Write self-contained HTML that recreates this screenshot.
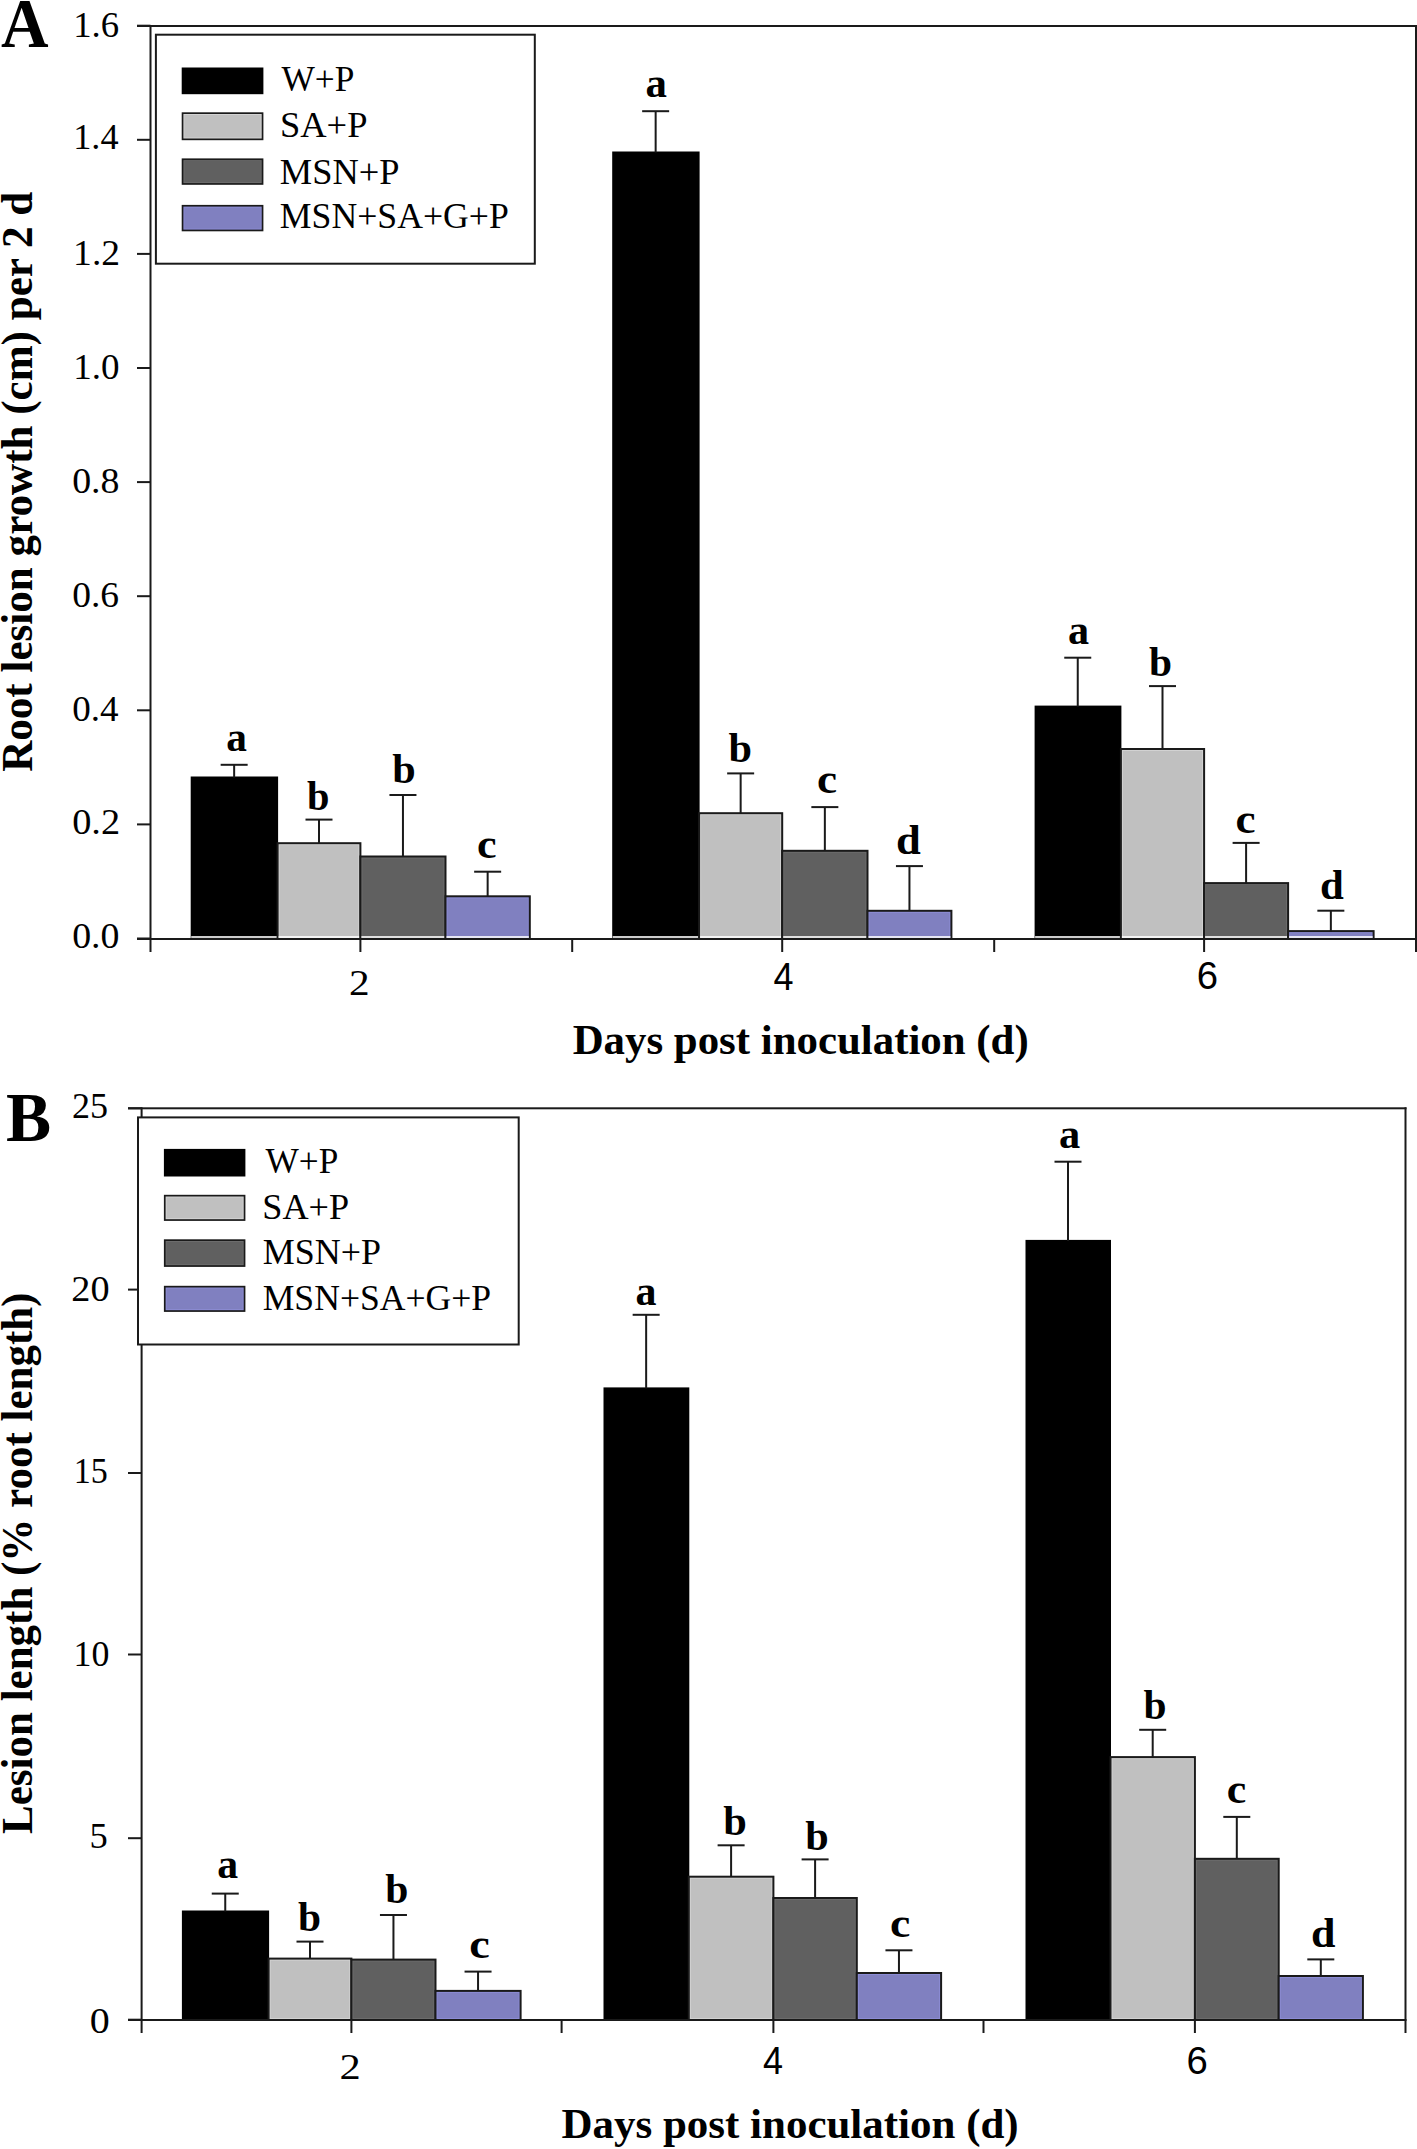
<!DOCTYPE html>
<html><head><meta charset="utf-8"><style>
html,body{margin:0;padding:0;background:#fff;}
svg{display:block;}
</style></head><body>
<svg width="1417" height="2149" viewBox="0 0 1417 2149">
<rect x="0" y="0" width="1417" height="2149" fill="#fff"/>
<rect x="190.70" y="776.50" width="87.40" height="161.50" fill="#000"/>
<rect x="191.20" y="936.00" width="85.90" height="2.00" fill="rgba(255,255,255,0.8)"/>
<rect x="276.60" y="842.20" width="84.80" height="95.80" fill="#1a1a1a"/>
<rect x="278.60" y="844.20" width="80.80" height="93.80" fill="#d2d2d2"/>
<rect x="279.60" y="845.20" width="78.80" height="92.80" fill="#c0c0c0"/>
<rect x="278.60" y="936.00" width="80.80" height="2.00" fill="rgba(255,255,255,0.8)"/>
<rect x="359.40" y="855.50" width="87.10" height="82.50" fill="#1a1a1a"/>
<rect x="361.40" y="857.50" width="83.10" height="80.50" fill="#6c6c6c"/>
<rect x="362.40" y="858.50" width="81.10" height="79.50" fill="#606060"/>
<rect x="361.40" y="936.00" width="83.10" height="2.00" fill="rgba(255,255,255,0.8)"/>
<rect x="444.50" y="895.30" width="86.30" height="42.70" fill="#1a1a1a"/>
<rect x="446.50" y="897.30" width="82.30" height="40.70" fill="#8c8cd4"/>
<rect x="447.50" y="898.30" width="80.30" height="39.70" fill="#8080c0"/>
<rect x="446.50" y="936.00" width="82.30" height="2.00" fill="rgba(255,255,255,0.8)"/>
<rect x="233.15" y="764.80" width="2.00" height="12.70" fill="#1a1a1a"/>
<rect x="220.65" y="763.80" width="27.00" height="2.00" fill="#1a1a1a"/>
<rect x="318.00" y="819.60" width="2.00" height="23.60" fill="#1a1a1a"/>
<rect x="305.50" y="818.60" width="27.00" height="2.00" fill="#1a1a1a"/>
<rect x="401.95" y="795.00" width="2.00" height="61.50" fill="#1a1a1a"/>
<rect x="389.45" y="794.00" width="27.00" height="2.00" fill="#1a1a1a"/>
<rect x="486.65" y="871.70" width="2.00" height="24.60" fill="#1a1a1a"/>
<rect x="474.15" y="870.70" width="27.00" height="2.00" fill="#1a1a1a"/>
<rect x="612.20" y="151.50" width="87.40" height="786.50" fill="#000"/>
<rect x="612.70" y="936.00" width="85.90" height="2.00" fill="rgba(255,255,255,0.8)"/>
<rect x="698.10" y="812.20" width="85.10" height="125.80" fill="#1a1a1a"/>
<rect x="700.10" y="814.20" width="81.10" height="123.80" fill="#d2d2d2"/>
<rect x="701.10" y="815.20" width="79.10" height="122.80" fill="#c0c0c0"/>
<rect x="700.10" y="936.00" width="81.10" height="2.00" fill="rgba(255,255,255,0.8)"/>
<rect x="781.20" y="849.80" width="87.30" height="88.20" fill="#1a1a1a"/>
<rect x="783.20" y="851.80" width="83.30" height="86.20" fill="#6c6c6c"/>
<rect x="784.20" y="852.80" width="81.30" height="85.20" fill="#606060"/>
<rect x="783.20" y="936.00" width="83.30" height="2.00" fill="rgba(255,255,255,0.8)"/>
<rect x="866.50" y="909.80" width="85.90" height="28.20" fill="#1a1a1a"/>
<rect x="868.50" y="911.80" width="81.90" height="26.20" fill="#8c8cd4"/>
<rect x="869.50" y="912.80" width="79.90" height="25.20" fill="#8080c0"/>
<rect x="868.50" y="936.00" width="81.90" height="2.00" fill="rgba(255,255,255,0.8)"/>
<rect x="654.65" y="111.20" width="2.00" height="41.30" fill="#1a1a1a"/>
<rect x="642.15" y="110.20" width="27.00" height="2.00" fill="#1a1a1a"/>
<rect x="739.65" y="773.40" width="2.00" height="39.80" fill="#1a1a1a"/>
<rect x="727.15" y="772.40" width="27.00" height="2.00" fill="#1a1a1a"/>
<rect x="823.85" y="807.10" width="2.00" height="43.70" fill="#1a1a1a"/>
<rect x="811.35" y="806.10" width="27.00" height="2.00" fill="#1a1a1a"/>
<rect x="908.45" y="866.10" width="2.00" height="44.70" fill="#1a1a1a"/>
<rect x="895.95" y="865.10" width="27.00" height="2.00" fill="#1a1a1a"/>
<rect x="1034.60" y="705.60" width="86.80" height="232.40" fill="#000"/>
<rect x="1035.10" y="936.00" width="85.30" height="2.00" fill="rgba(255,255,255,0.8)"/>
<rect x="1119.90" y="748.00" width="85.20" height="190.00" fill="#1a1a1a"/>
<rect x="1121.90" y="750.00" width="81.20" height="188.00" fill="#d2d2d2"/>
<rect x="1122.90" y="751.00" width="79.20" height="187.00" fill="#c0c0c0"/>
<rect x="1121.90" y="936.00" width="81.20" height="2.00" fill="rgba(255,255,255,0.8)"/>
<rect x="1203.10" y="882.10" width="86.00" height="55.90" fill="#1a1a1a"/>
<rect x="1205.10" y="884.10" width="82.00" height="53.90" fill="#6c6c6c"/>
<rect x="1206.10" y="885.10" width="80.00" height="52.90" fill="#606060"/>
<rect x="1205.10" y="936.00" width="82.00" height="2.00" fill="rgba(255,255,255,0.8)"/>
<rect x="1287.10" y="930.10" width="87.50" height="7.90" fill="#1a1a1a"/>
<rect x="1289.10" y="932.10" width="83.50" height="5.90" fill="#8c8cd4"/>
<rect x="1290.10" y="933.10" width="81.50" height="4.90" fill="#8080c0"/>
<rect x="1289.10" y="936.00" width="83.50" height="2.00" fill="rgba(255,255,255,0.8)"/>
<rect x="1076.75" y="657.70" width="2.00" height="48.90" fill="#1a1a1a"/>
<rect x="1064.25" y="656.70" width="27.00" height="2.00" fill="#1a1a1a"/>
<rect x="1161.50" y="686.10" width="2.00" height="62.90" fill="#1a1a1a"/>
<rect x="1149.00" y="685.10" width="27.00" height="2.00" fill="#1a1a1a"/>
<rect x="1245.10" y="842.90" width="2.00" height="40.20" fill="#1a1a1a"/>
<rect x="1232.60" y="841.90" width="27.00" height="2.00" fill="#1a1a1a"/>
<rect x="1329.85" y="910.70" width="2.00" height="20.40" fill="#1a1a1a"/>
<rect x="1317.35" y="909.70" width="27.00" height="2.00" fill="#1a1a1a"/>
<rect x="137.00" y="25.00" width="1280.00" height="2.00" fill="#1a1a1a"/>
<rect x="137.00" y="938.00" width="1280.00" height="2.00" fill="#1a1a1a"/>
<rect x="149.50" y="25.00" width="2.00" height="927.00" fill="#1a1a1a"/>
<rect x="1415.00" y="25.00" width="2.00" height="927.00" fill="#1a1a1a"/>
<rect x="137.00" y="937.50" width="13.50" height="2.00" fill="#1a1a1a"/>
<rect x="137.00" y="823.40" width="13.50" height="2.00" fill="#1a1a1a"/>
<rect x="137.00" y="709.30" width="13.50" height="2.00" fill="#1a1a1a"/>
<rect x="137.00" y="595.20" width="13.50" height="2.00" fill="#1a1a1a"/>
<rect x="137.00" y="481.10" width="13.50" height="2.00" fill="#1a1a1a"/>
<rect x="137.00" y="367.00" width="13.50" height="2.00" fill="#1a1a1a"/>
<rect x="137.00" y="252.90" width="13.50" height="2.00" fill="#1a1a1a"/>
<rect x="137.00" y="138.80" width="13.50" height="2.00" fill="#1a1a1a"/>
<rect x="137.00" y="24.70" width="13.50" height="2.00" fill="#1a1a1a"/>
<rect x="359.40" y="939.00" width="2.00" height="13.00" fill="#1a1a1a"/>
<rect x="571.20" y="939.00" width="2.00" height="13.00" fill="#1a1a1a"/>
<rect x="781.20" y="939.00" width="2.00" height="13.00" fill="#1a1a1a"/>
<rect x="993.20" y="939.00" width="2.00" height="13.00" fill="#1a1a1a"/>
<rect x="1203.10" y="939.00" width="2.00" height="13.00" fill="#1a1a1a"/>
<rect x="154.90" y="33.70" width="380.90" height="231.00" fill="#1a1a1a"/>
<rect x="156.90" y="35.70" width="376.90" height="227.00" fill="#fff"/>
<rect x="181.70" y="67.50" width="81.70" height="26.70" fill="#000"/>
<rect x="181.70" y="112.30" width="81.70" height="27.90" fill="#1a1a1a"/>
<rect x="183.40" y="114.00" width="78.30" height="24.50" fill="#d2d2d2"/>
<rect x="184.40" y="115.00" width="76.30" height="22.50" fill="#c0c0c0"/>
<rect x="181.70" y="158.40" width="81.70" height="26.40" fill="#1a1a1a"/>
<rect x="183.40" y="160.10" width="78.30" height="23.00" fill="#6c6c6c"/>
<rect x="184.40" y="161.10" width="76.30" height="21.00" fill="#606060"/>
<rect x="181.70" y="204.90" width="81.70" height="26.40" fill="#1a1a1a"/>
<rect x="183.40" y="206.60" width="78.30" height="23.00" fill="#8c8cd4"/>
<rect x="184.40" y="207.60" width="76.30" height="21.00" fill="#8080c0"/>
<text x="281.50" y="90.58" font-family='"Liberation Serif", serif' font-weight="normal" font-size="34.80" textLength="72.88" lengthAdjust="spacingAndGlyphs">W+P</text>
<text x="280.03" y="137.15" font-family='"Liberation Serif", serif' font-weight="normal" font-size="34.80" textLength="87.46" lengthAdjust="spacingAndGlyphs">SA+P</text>
<text x="279.81" y="183.55" font-family='"Liberation Serif", serif' font-weight="normal" font-size="34.80" textLength="119.64" lengthAdjust="spacingAndGlyphs">MSN+P</text>
<text x="279.83" y="227.65" font-family='"Liberation Serif", serif' font-weight="normal" font-size="34.80" textLength="228.94" lengthAdjust="spacingAndGlyphs">MSN+SA+G+P</text>
<rect x="181.90" y="1910.50" width="87.20" height="108.50" fill="#000"/>
<rect x="267.60" y="1957.60" width="84.80" height="61.40" fill="#1a1a1a"/>
<rect x="269.60" y="1959.60" width="80.80" height="59.40" fill="#d2d2d2"/>
<rect x="270.60" y="1960.60" width="78.80" height="57.40" fill="#c0c0c0"/>
<rect x="350.40" y="1958.60" width="86.10" height="60.40" fill="#1a1a1a"/>
<rect x="352.40" y="1960.60" width="82.10" height="58.40" fill="#6c6c6c"/>
<rect x="353.40" y="1961.60" width="80.10" height="56.40" fill="#606060"/>
<rect x="434.50" y="1989.90" width="87.10" height="29.10" fill="#1a1a1a"/>
<rect x="436.50" y="1991.90" width="83.10" height="27.10" fill="#8c8cd4"/>
<rect x="437.50" y="1992.90" width="81.10" height="25.10" fill="#8080c0"/>
<rect x="224.25" y="1893.60" width="2.00" height="17.90" fill="#1a1a1a"/>
<rect x="211.75" y="1892.60" width="27.00" height="2.00" fill="#1a1a1a"/>
<rect x="309.00" y="1941.60" width="2.00" height="17.00" fill="#1a1a1a"/>
<rect x="296.50" y="1940.60" width="27.00" height="2.00" fill="#1a1a1a"/>
<rect x="392.45" y="1915.00" width="2.00" height="44.60" fill="#1a1a1a"/>
<rect x="379.95" y="1914.00" width="27.00" height="2.00" fill="#1a1a1a"/>
<rect x="477.05" y="1971.60" width="2.00" height="19.30" fill="#1a1a1a"/>
<rect x="464.55" y="1970.60" width="27.00" height="2.00" fill="#1a1a1a"/>
<rect x="603.50" y="1387.40" width="85.80" height="631.60" fill="#000"/>
<rect x="687.80" y="1875.70" width="86.60" height="143.30" fill="#1a1a1a"/>
<rect x="689.80" y="1877.70" width="82.60" height="141.30" fill="#d2d2d2"/>
<rect x="690.80" y="1878.70" width="80.60" height="139.30" fill="#c0c0c0"/>
<rect x="772.40" y="1897.00" width="85.40" height="122.00" fill="#1a1a1a"/>
<rect x="774.40" y="1899.00" width="81.40" height="120.00" fill="#6c6c6c"/>
<rect x="775.40" y="1900.00" width="79.40" height="118.00" fill="#606060"/>
<rect x="855.80" y="1972.00" width="86.30" height="47.00" fill="#1a1a1a"/>
<rect x="857.80" y="1974.00" width="82.30" height="45.00" fill="#8c8cd4"/>
<rect x="858.80" y="1975.00" width="80.30" height="43.00" fill="#8080c0"/>
<rect x="645.15" y="1314.80" width="2.00" height="73.60" fill="#1a1a1a"/>
<rect x="632.65" y="1313.80" width="27.00" height="2.00" fill="#1a1a1a"/>
<rect x="730.10" y="1845.30" width="2.00" height="31.40" fill="#1a1a1a"/>
<rect x="717.60" y="1844.30" width="27.00" height="2.00" fill="#1a1a1a"/>
<rect x="814.10" y="1859.40" width="2.00" height="38.60" fill="#1a1a1a"/>
<rect x="801.60" y="1858.40" width="27.00" height="2.00" fill="#1a1a1a"/>
<rect x="897.95" y="1950.30" width="2.00" height="22.70" fill="#1a1a1a"/>
<rect x="885.45" y="1949.30" width="27.00" height="2.00" fill="#1a1a1a"/>
<rect x="1025.50" y="1239.90" width="85.50" height="779.10" fill="#000"/>
<rect x="1109.50" y="1756.10" width="86.40" height="262.90" fill="#1a1a1a"/>
<rect x="1111.50" y="1758.10" width="82.40" height="260.90" fill="#d2d2d2"/>
<rect x="1112.50" y="1759.10" width="80.40" height="258.90" fill="#c0c0c0"/>
<rect x="1193.90" y="1857.80" width="85.80" height="161.20" fill="#1a1a1a"/>
<rect x="1195.90" y="1859.80" width="81.80" height="159.20" fill="#6c6c6c"/>
<rect x="1196.90" y="1860.80" width="79.80" height="157.20" fill="#606060"/>
<rect x="1277.70" y="1975.00" width="86.20" height="44.00" fill="#1a1a1a"/>
<rect x="1279.70" y="1977.00" width="82.20" height="42.00" fill="#8c8cd4"/>
<rect x="1280.70" y="1978.00" width="80.20" height="40.00" fill="#8080c0"/>
<rect x="1067.00" y="1161.70" width="2.00" height="79.20" fill="#1a1a1a"/>
<rect x="1054.50" y="1160.70" width="27.00" height="2.00" fill="#1a1a1a"/>
<rect x="1151.70" y="1729.80" width="2.00" height="27.30" fill="#1a1a1a"/>
<rect x="1139.20" y="1728.80" width="27.00" height="2.00" fill="#1a1a1a"/>
<rect x="1235.80" y="1816.90" width="2.00" height="41.90" fill="#1a1a1a"/>
<rect x="1223.30" y="1815.90" width="27.00" height="2.00" fill="#1a1a1a"/>
<rect x="1319.80" y="1959.40" width="2.00" height="16.60" fill="#1a1a1a"/>
<rect x="1307.30" y="1958.40" width="27.00" height="2.00" fill="#1a1a1a"/>
<rect x="128.00" y="1107.30" width="1278.50" height="2.00" fill="#1a1a1a"/>
<rect x="128.00" y="2019.00" width="1278.50" height="2.00" fill="#1a1a1a"/>
<rect x="140.60" y="1107.30" width="2.00" height="925.70" fill="#1a1a1a"/>
<rect x="1404.50" y="1107.30" width="2.00" height="925.70" fill="#1a1a1a"/>
<rect x="128.00" y="2018.70" width="13.60" height="2.00" fill="#1a1a1a"/>
<rect x="128.00" y="1837.20" width="13.60" height="2.00" fill="#1a1a1a"/>
<rect x="128.00" y="1653.50" width="13.60" height="2.00" fill="#1a1a1a"/>
<rect x="128.00" y="1472.00" width="13.60" height="2.00" fill="#1a1a1a"/>
<rect x="128.00" y="1288.60" width="13.60" height="2.00" fill="#1a1a1a"/>
<rect x="128.00" y="1107.30" width="13.60" height="2.00" fill="#1a1a1a"/>
<rect x="350.40" y="2020.00" width="2.00" height="13.00" fill="#1a1a1a"/>
<rect x="560.60" y="2020.00" width="2.00" height="13.00" fill="#1a1a1a"/>
<rect x="772.40" y="2020.00" width="2.00" height="13.00" fill="#1a1a1a"/>
<rect x="982.50" y="2020.00" width="2.00" height="13.00" fill="#1a1a1a"/>
<rect x="1193.90" y="2020.00" width="2.00" height="13.00" fill="#1a1a1a"/>
<rect x="137.00" y="1116.40" width="382.70" height="229.10" fill="#1a1a1a"/>
<rect x="139.00" y="1118.40" width="378.70" height="225.10" fill="#fff"/>
<rect x="163.90" y="1148.90" width="81.50" height="27.60" fill="#000"/>
<rect x="163.90" y="1194.80" width="81.50" height="26.10" fill="#1a1a1a"/>
<rect x="165.60" y="1196.50" width="78.10" height="22.70" fill="#d2d2d2"/>
<rect x="166.60" y="1197.50" width="76.10" height="20.70" fill="#c0c0c0"/>
<rect x="163.90" y="1239.30" width="81.50" height="27.60" fill="#1a1a1a"/>
<rect x="165.60" y="1241.00" width="78.10" height="24.20" fill="#6c6c6c"/>
<rect x="166.60" y="1242.00" width="76.10" height="22.20" fill="#606060"/>
<rect x="163.90" y="1285.80" width="81.50" height="26.10" fill="#1a1a1a"/>
<rect x="165.60" y="1287.50" width="78.10" height="22.70" fill="#8c8cd4"/>
<rect x="166.60" y="1288.50" width="76.10" height="20.70" fill="#8080c0"/>
<text x="265.60" y="1173.38" font-family='"Liberation Serif", serif' font-weight="normal" font-size="34.80" textLength="72.77" lengthAdjust="spacingAndGlyphs">W+P</text>
<text x="262.35" y="1219.45" font-family='"Liberation Serif", serif' font-weight="normal" font-size="34.80" textLength="86.83" lengthAdjust="spacingAndGlyphs">SA+P</text>
<text x="262.72" y="1263.95" font-family='"Liberation Serif", serif' font-weight="normal" font-size="34.80" textLength="118.21" lengthAdjust="spacingAndGlyphs">MSN+P</text>
<text x="262.73" y="1310.35" font-family='"Liberation Serif", serif' font-weight="normal" font-size="34.80" textLength="228.43" lengthAdjust="spacingAndGlyphs">MSN+SA+G+P</text>
<text x="72.19" y="948.38" font-family='"Liberation Serif", serif' font-weight="normal" font-size="35.00" textLength="47.33" lengthAdjust="spacingAndGlyphs">0.0</text>
<text x="72.17" y="834.48" font-family='"Liberation Serif", serif' font-weight="normal" font-size="35.00" textLength="47.94" lengthAdjust="spacingAndGlyphs">0.2</text>
<text x="72.22" y="721.18" font-family='"Liberation Serif", serif' font-weight="normal" font-size="35.00" textLength="46.34" lengthAdjust="spacingAndGlyphs">0.4</text>
<text x="72.20" y="606.77" font-family='"Liberation Serif", serif' font-weight="normal" font-size="35.00" textLength="46.93" lengthAdjust="spacingAndGlyphs">0.6</text>
<text x="72.19" y="492.68" font-family='"Liberation Serif", serif' font-weight="normal" font-size="35.00" textLength="47.33" lengthAdjust="spacingAndGlyphs">0.8</text>
<text x="73.17" y="378.98" font-family='"Liberation Serif", serif' font-weight="normal" font-size="35.00" textLength="46.32" lengthAdjust="spacingAndGlyphs">1.0</text>
<text x="73.12" y="264.88" font-family='"Liberation Serif", serif' font-weight="normal" font-size="35.00" textLength="46.95" lengthAdjust="spacingAndGlyphs">1.2</text>
<text x="73.24" y="149.47" font-family='"Liberation Serif", serif' font-weight="normal" font-size="35.00" textLength="45.31" lengthAdjust="spacingAndGlyphs">1.4</text>
<text x="73.19" y="37.08" font-family='"Liberation Serif", serif' font-weight="normal" font-size="35.00" textLength="45.91" lengthAdjust="spacingAndGlyphs">1.6</text>
<text x="89.80" y="2032.95" font-family='"Liberation Serif", serif' font-weight="normal" font-size="35.00" textLength="20.00" lengthAdjust="spacingAndGlyphs">0</text>
<text x="89.61" y="1847.85" font-family='"Liberation Serif", serif' font-weight="normal" font-size="35.00" textLength="18.25" lengthAdjust="spacingAndGlyphs">5</text>
<text x="73.57" y="1666.45" font-family='"Liberation Serif", serif' font-weight="normal" font-size="35.00" textLength="35.86" lengthAdjust="spacingAndGlyphs">10</text>
<text x="73.74" y="1483.25" font-family='"Liberation Serif", serif' font-weight="normal" font-size="35.00" textLength="34.02" lengthAdjust="spacingAndGlyphs">15</text>
<text x="71.28" y="1300.95" font-family='"Liberation Serif", serif' font-weight="normal" font-size="35.00" textLength="38.25" lengthAdjust="spacingAndGlyphs">20</text>
<text x="71.98" y="1117.75" font-family='"Liberation Serif", serif' font-weight="normal" font-size="35.00" textLength="36.07" lengthAdjust="spacingAndGlyphs">25</text>
<text x="348.94" y="995.30" font-family='"Liberation Serif", serif' font-weight="normal" font-size="35.00" textLength="20.62" lengthAdjust="spacingAndGlyphs">2</text>
<text x="773.40" y="989.80" font-family='"Liberation Sans", sans-serif' font-weight="normal" font-size="38.50" textLength="20.02" lengthAdjust="spacingAndGlyphs">4</text>
<text x="1196.69" y="989.42" font-family='"Liberation Sans", sans-serif' font-weight="normal" font-size="38.00" textLength="21.28" lengthAdjust="spacingAndGlyphs">6</text>
<text x="339.59" y="2079.40" font-family='"Liberation Serif", serif' font-weight="normal" font-size="35.00" textLength="21.25" lengthAdjust="spacingAndGlyphs">2</text>
<text x="762.90" y="2074.10" font-family='"Liberation Sans", sans-serif' font-weight="normal" font-size="38.50" textLength="20.02" lengthAdjust="spacingAndGlyphs">4</text>
<text x="1186.59" y="2073.72" font-family='"Liberation Sans", sans-serif' font-weight="normal" font-size="38.00" textLength="21.28" lengthAdjust="spacingAndGlyphs">6</text>
<text x="226.16" y="751.29" font-family='"Liberation Serif", serif' font-weight="bold" font-size="41.50" textLength="20.66" lengthAdjust="spacingAndGlyphs">a</text>
<text x="307.09" y="809.99" font-family='"Liberation Serif", serif' font-weight="bold" font-size="41.50" textLength="22.47" lengthAdjust="spacingAndGlyphs">b</text>
<text x="392.17" y="783.09" font-family='"Liberation Serif", serif' font-weight="bold" font-size="41.50" textLength="23.47" lengthAdjust="spacingAndGlyphs">b</text>
<text x="477.05" y="857.88" font-family='"Liberation Serif", serif' font-weight="bold" font-size="41.50" textLength="19.60" lengthAdjust="spacingAndGlyphs">c</text>
<text x="645.61" y="97.38" font-family='"Liberation Serif", serif' font-weight="bold" font-size="41.50" textLength="21.43" lengthAdjust="spacingAndGlyphs">a</text>
<text x="728.57" y="761.79" font-family='"Liberation Serif", serif' font-weight="bold" font-size="41.50" textLength="23.47" lengthAdjust="spacingAndGlyphs">b</text>
<text x="817.02" y="793.38" font-family='"Liberation Serif", serif' font-weight="bold" font-size="41.50" textLength="20.06" lengthAdjust="spacingAndGlyphs">c</text>
<text x="896.02" y="854.38" font-family='"Liberation Serif", serif' font-weight="bold" font-size="41.50" textLength="24.78" lengthAdjust="spacingAndGlyphs">d</text>
<text x="1068.03" y="644.38" font-family='"Liberation Serif", serif' font-weight="bold" font-size="41.50" textLength="21.10" lengthAdjust="spacingAndGlyphs">a</text>
<text x="1148.88" y="676.09" font-family='"Liberation Serif", serif' font-weight="bold" font-size="41.50" textLength="23.03" lengthAdjust="spacingAndGlyphs">b</text>
<text x="1235.42" y="833.09" font-family='"Liberation Serif", serif' font-weight="bold" font-size="41.50" textLength="20.06" lengthAdjust="spacingAndGlyphs">c</text>
<text x="1320.09" y="898.69" font-family='"Liberation Serif", serif' font-weight="bold" font-size="41.50" textLength="23.79" lengthAdjust="spacingAndGlyphs">d</text>
<text x="217.25" y="1877.99" font-family='"Liberation Serif", serif' font-weight="bold" font-size="41.50" textLength="20.88" lengthAdjust="spacingAndGlyphs">a</text>
<text x="297.88" y="1931.29" font-family='"Liberation Serif", serif' font-weight="bold" font-size="41.50" textLength="23.03" lengthAdjust="spacingAndGlyphs">b</text>
<text x="385.28" y="1903.09" font-family='"Liberation Serif", serif' font-weight="bold" font-size="41.50" textLength="23.14" lengthAdjust="spacingAndGlyphs">b</text>
<text x="469.38" y="1958.18" font-family='"Liberation Serif", serif' font-weight="bold" font-size="41.50" textLength="20.52" lengthAdjust="spacingAndGlyphs">c</text>
<text x="635.44" y="1304.88" font-family='"Liberation Serif", serif' font-weight="bold" font-size="41.50" textLength="20.99" lengthAdjust="spacingAndGlyphs">a</text>
<text x="723.16" y="1835.38" font-family='"Liberation Serif", serif' font-weight="bold" font-size="41.50" textLength="23.58" lengthAdjust="spacingAndGlyphs">b</text>
<text x="805.27" y="1849.59" font-family='"Liberation Serif", serif' font-weight="bold" font-size="41.50" textLength="23.47" lengthAdjust="spacingAndGlyphs">b</text>
<text x="890.00" y="1936.99" font-family='"Liberation Serif", serif' font-weight="bold" font-size="41.50" textLength="20.29" lengthAdjust="spacingAndGlyphs">c</text>
<text x="1059.03" y="1148.18" font-family='"Liberation Serif", serif' font-weight="bold" font-size="41.50" textLength="21.21" lengthAdjust="spacingAndGlyphs">a</text>
<text x="1143.58" y="1719.49" font-family='"Liberation Serif", serif' font-weight="bold" font-size="41.50" textLength="23.03" lengthAdjust="spacingAndGlyphs">b</text>
<text x="1226.66" y="1802.99" font-family='"Liberation Serif", serif' font-weight="bold" font-size="41.50" textLength="19.48" lengthAdjust="spacingAndGlyphs">c</text>
<text x="1311.04" y="1947.49" font-family='"Liberation Serif", serif' font-weight="bold" font-size="41.50" textLength="24.45" lengthAdjust="spacingAndGlyphs">d</text>
<text x="572.64" y="1053.80" font-family='"Liberation Serif", serif' font-weight="bold" font-size="43.00" textLength="456.11" lengthAdjust="spacingAndGlyphs">Days post inoculation (d)</text>
<text x="561.54" y="2137.90" font-family='"Liberation Serif", serif' font-weight="bold" font-size="43.00" textLength="457.11" lengthAdjust="spacingAndGlyphs">Days post inoculation (d)</text>
<text transform="rotate(-90)" x="-771.85" y="32.00" font-family='"Liberation Serif", serif' font-weight="bold" font-size="43.50" textLength="580.07" lengthAdjust="spacingAndGlyphs">Root lesion growth (cm) per 2 d</text>
<text transform="rotate(-90)" x="-1833.94" y="32.00" font-family='"Liberation Serif", serif' font-weight="bold" font-size="43.50" textLength="541.39" lengthAdjust="spacingAndGlyphs">Lesion length (% root length)</text>
<text x="1.04" y="46.80" font-family='"Liberation Serif", serif' font-weight="bold" font-size="70.00" textLength="47.53" lengthAdjust="spacingAndGlyphs">A</text>
<text x="6.08" y="1141.05" font-family='"Liberation Serif", serif' font-weight="bold" font-size="70.50" textLength="45.14" lengthAdjust="spacingAndGlyphs">B</text>
</svg>
</body></html>
